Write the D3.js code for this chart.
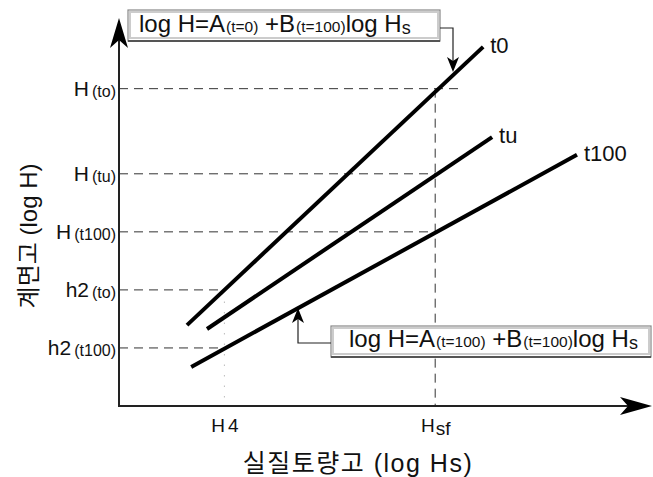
<!DOCTYPE html>
<html><head><meta charset="utf-8">
<script src="https://cdn.jsdelivr.net/npm/d3@7"></script>
<style>
html,body{margin:0;padding:0;background:#fff;}
svg{display:block;font-family:"Liberation Sans",Arial,"Noto Sans CJK KR",sans-serif;}
</style></head>
<body>
<svg id="c" width="653" height="477"></svg>
<script>
// ---- data (log units) ----
const seriesNames = ["t0", "tu", "t100"];
const lineStartX = [1.29, 1.67, 1.37];
const lineStartY = [2.09, 1.99, 1.01];
const lineEndX   = [6.91, 7.08, 8.69];
const lineEndY   = [9.28, 6.95, 6.49];

const yTickValues = [8.2, 6.0, 4.5, 3.0, 1.5];
const yTickMain   = ["H", "H", "H", "h2", "h2"];
const yTickSub    = ["(to)", "(tu)", "(t100)", "(to)", "(t100)"];
const yGuideEndX  = [6.45, 6.0, 6.0, 2.0, 2.0];

const xTickValues = [2, 6];
const xTickMain   = ["H", "H"];
const xTickSub    = ["4", "sf"];

const xTitle = "실질토량고 (log Hs)";
const yTitle = "계면고 (log H)";

// ---- scales ----
const x = d3.scaleLinear().domain([0, 10]).range([119, 646]);
const y = d3.scaleLinear().domain([0, 10]).range([406, 19]);
const svg = d3.select("#c");

// guides
const g = svg.append("g");
yTickValues.forEach((v, i) => {
  g.append("line").attr("x1", x(0)).attr("x2", x(yGuideEndX[i]))
   .attr("y1", y(v)).attr("y2", y(v))
   .attr("stroke", "#333").attr("stroke-width", 1).attr("stroke-dasharray", "9,6");
});
g.append("line").attr("x1", x(6)).attr("x2", x(6)).attr("y1", y(8.2)).attr("y2", y(0))
 .attr("stroke", "#333").attr("stroke-width", 1).attr("stroke-dasharray", "9,6");
g.append("line").attr("x1", x(2)).attr("x2", x(2)).attr("y1", y(2.7)).attr("y2", y(0))
 .attr("stroke", "#bbb").attr("stroke-width", 1).attr("stroke-dasharray", "1.5,9");

// lines
seriesNames.forEach((n, i) => {
  svg.append("line")
    .attr("x1", x(lineStartX[i])).attr("y1", y(lineStartY[i]))
    .attr("x2", x(lineEndX[i])).attr("y2", y(lineEndY[i]))
    .attr("stroke", "#000").attr("stroke-width", 4).attr("stroke-linecap", "butt");
  svg.append("text").attr("x", x(lineEndX[i]) + 7).attr("y", y(lineEndY[i]) + 6)
    .attr("font-size", 22).attr("fill", "#111").text(n);
});

// axes (labels via d3 axes)
const yAxis = d3.axisLeft(y).tickValues(yTickValues).tickSize(0).tickFormat(() => "");
const ya = svg.append("g").attr("transform", `translate(${x(0)},0)`).call(yAxis);
ya.select(".domain").remove();
ya.attr("font-family", null).attr("font-size", null);
ya.selectAll(".tick text").each(function(d, i) {
  const t = d3.select(this).attr("fill", "#111").attr("dy", null).attr("y", 7).attr("x", -3);
  t.append("tspan").attr("font-size", 21).text(yTickMain[i]);
  t.append("tspan").attr("font-size", 16).attr("dx", 3).attr("dy", 1).text(yTickSub[i]);
});
const xAxis = d3.axisBottom(x).tickValues(xTickValues).tickSize(0).tickFormat(() => "");
const xa = svg.append("g").attr("transform", `translate(0,${y(0)})`).call(xAxis);
xa.select(".domain").remove();
xa.attr("font-family", null).attr("font-size", null);
xa.selectAll(".tick text").each(function(d, i) {
  const t = d3.select(this).attr("fill", "#111").attr("dy", null).attr("y", 26);
  t.append("tspan").attr("font-size", 19).text(xTickMain[i]);
  t.append("tspan").attr("font-size", 19).attr("dx", i === 0 ? 3 : 1).attr("dy", i === 0 ? 0 : 3).text(xTickSub[i]);
});

// axis lines with arrows
const axTop = 18, axRight = 652;
svg.append("line").attr("x1", x(0)).attr("x2", x(0)).attr("y1", y(0) + 1).attr("y2", axTop + 20)
  .attr("stroke", "#222").attr("stroke-width", 2);
svg.append("path").attr("d", `M${x(0)},${axTop} L${x(0)-9},${axTop+30} L${x(0)},${axTop+22} L${x(0)+9},${axTop+30} Z`).attr("fill", "#000");
svg.append("line").attr("x1", x(0) - 1).attr("x2", axRight - 20).attr("y1", y(0)).attr("y2", y(0))
  .attr("stroke", "#222").attr("stroke-width", 2);
svg.append("path").attr("d", `M${axRight},${y(0)} L${axRight-32},${y(0)-9} L${axRight-24},${y(0)} L${axRight-32},${y(0)+9} Z`).attr("fill", "#000");

// titles
svg.append("text").attr("x", 358).attr("y", 472).attr("text-anchor", "middle")
  .attr("font-size", 25).attr("letter-spacing", 1.5).attr("fill", "#111").text(xTitle);
svg.append("text").attr("transform", "translate(37,236) rotate(-90)").attr("text-anchor", "middle")
  .attr("font-size", 24).attr("fill", "#111").text(yTitle);

// formula boxes
function box(x0, y0, w, h, parts, tx, base) {
  const bg = svg.append("g");
  bg.append("rect").attr("x", x0).attr("y", y0).attr("width", w).attr("height", h)
    .attr("fill", "#fff").attr("stroke", "#888").attr("stroke-width", 1.2);
  bg.append("rect").attr("x", x0 + 2).attr("y", y0 + 2).attr("width", w - 4).attr("height", h - 5)
    .attr("fill", "#fff").attr("stroke", "#ccc").attr("stroke-width", 2);
  bg.append("line").attr("x1", x0).attr("x2", x0 + w).attr("y1", y0 + h).attr("y2", y0 + h)
    .attr("stroke", "#555").attr("stroke-width", 2);
  const t = bg.append("text").attr("x", tx).attr("y", y0 + base).attr("fill", "#111");
  parts.forEach(p => t.append("tspan").attr("font-size", p[1]).attr("dy", p[2] || 0).attr("dx", p[3] || 0).text(p[0]));
}
box(128, 10, 312, 31, [["log H=A", 24], ["(t=0)", 15.5, 0, 1], [" +B", 24], ["(t=100)", 15.5, 0, 1], ["log H", 24], ["s", 18, 2]], 139, 22);
box(331, 326, 320, 31, [["log H=A", 24], ["(t=100)", 15.5, 0, 1], [" +B", 24], ["(t=100)", 15.5, 0, 1], ["log H", 24], ["s", 18, 2]], 349, 21);

// connectors
svg.append("path").attr("d", "M440,28 H453 V62").attr("fill", "none").attr("stroke", "#222").attr("stroke-width", 1.2);
svg.append("path").attr("d", "M453,72 L447,57 L453,61 L459,57 Z").attr("fill", "#000");
svg.append("path").attr("d", "M331,343 H298 V318").attr("fill", "none").attr("stroke", "#222").attr("stroke-width", 1.2);
svg.append("path").attr("d", "M298,308 L292,323 L298,319 L304,323 Z").attr("fill", "#000");
</script>
</body></html>
